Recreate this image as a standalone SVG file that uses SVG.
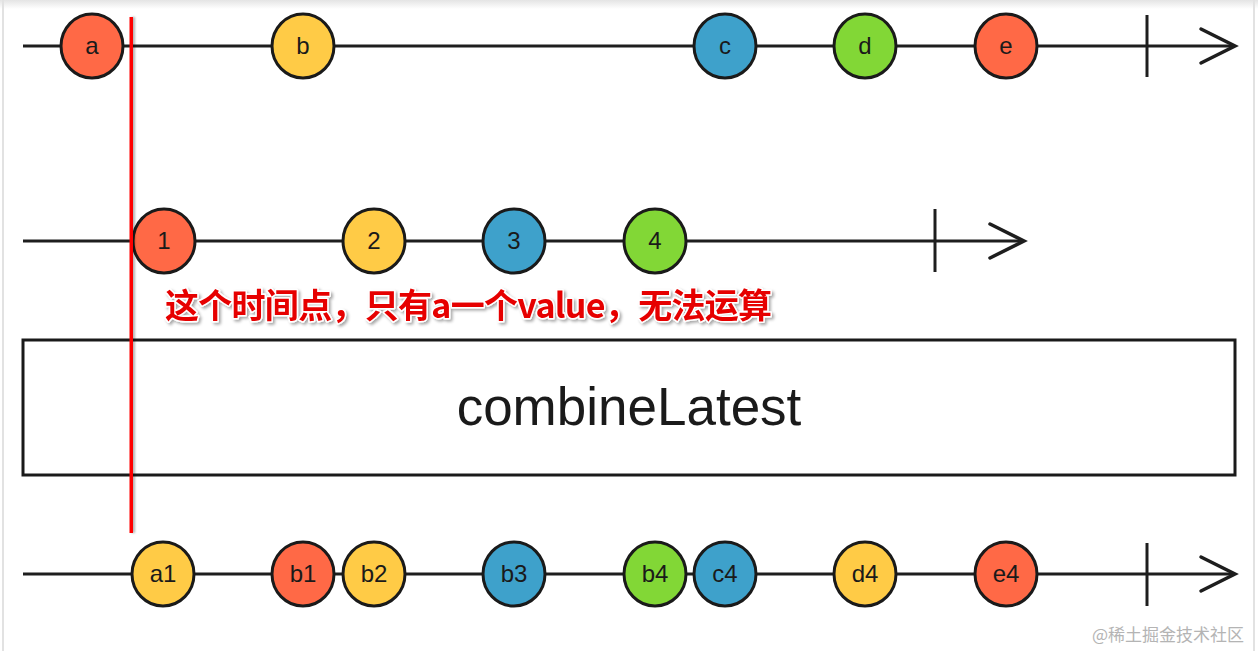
<svg xmlns="http://www.w3.org/2000/svg" width="1258" height="651" viewBox="0 0 1258 651">
<defs>
<linearGradient id="topShade" x1="0" y1="0" x2="0" y2="1">
<stop offset="0" stop-color="#e4e4e4"/>
<stop offset="1" stop-color="#ffffff"/>
</linearGradient>
<filter id="shadow" x="-10%" y="-30%" width="120%" height="160%">
<feDropShadow dx="2" dy="2" stdDeviation="1.5" flood-color="#000" flood-opacity="0.35"/>
</filter>
<filter id="lineShadow" filterUnits="userSpaceOnUse" x="120" y="10" width="30" height="530">
<feDropShadow dx="2" dy="0" stdDeviation="1.2" flood-color="#000" flood-opacity="0.3"/>
</filter>
</defs>
<style>
.tl{stroke:#1e1e1e;stroke-width:3;fill:none;stroke-linecap:butt}
.arw{stroke:#1e1e1e;stroke-width:3.5;fill:none;stroke-linecap:round;stroke-linejoin:miter}
.m{stroke:#1a1a1a;stroke-width:3}
.red{fill:#ff6946}
.yel{fill:#ffcb46}
.blu{fill:#3ea1cb}
.grn{fill:#82d736}
.lbl{font-family:"Liberation Sans",Arial,sans-serif;font-size:24px;fill:#1a1a1a;text-anchor:middle}
.op{font-family:"Liberation Sans",Arial,sans-serif;font-size:53px;fill:#1a1a1a;text-anchor:middle}
.note{font-family:"Noto Sans CJK SC","Noto Sans",sans-serif;font-weight:bold;font-size:34px;fill:#e60000;stroke:#ffffff;stroke-width:3;paint-order:stroke;stroke-linejoin:round}
.wm{font-family:"Noto Sans CJK SC",sans-serif;font-size:17px;fill:#b4b4b4}
</style>
<rect width="1258" height="651" fill="#ffffff"/>
<rect width="1258" height="9" fill="url(#topShade)"/>
<line x1="3" y1="0" x2="3" y2="651" stroke="#e2e2e2" stroke-width="2"/>
<line x1="1254" y1="0" x2="1254" y2="651" stroke="#e2e2e2" stroke-width="2"/>

<g id="connectors">
<line class="tl" x1="23" y1="46" x2="1235" y2="46"/>
<line class="tl" x1="1147" y1="15" x2="1147" y2="77"/>
<polyline class="arw" points="1201,29 1235,46 1201,63"/>
<line class="tl" x1="23" y1="241" x2="1024" y2="241"/>
<line class="tl" x1="935" y1="209" x2="935" y2="272"/>
<polyline class="arw" points="990,224 1024,241 990,258"/>
<line class="tl" x1="23" y1="574" x2="1235" y2="574"/>
<line class="tl" x1="1147" y1="543" x2="1147" y2="606"/>
<polyline class="arw" points="1201,557 1235,574 1201,591"/>
</g>

<g id="node-a"><ellipse class="m red" cx="92" cy="46" rx="31" ry="32"/><text class="lbl" x="92" y="54">a</text></g>
<g id="node-b"><ellipse class="m yel" cx="303" cy="46" rx="31" ry="32"/><text class="lbl" x="303" y="54">b</text></g>
<g id="node-c"><ellipse class="m blu" cx="725" cy="46" rx="31" ry="32"/><text class="lbl" x="725" y="54">c</text></g>
<g id="node-d"><ellipse class="m grn" cx="865" cy="46" rx="31" ry="32"/><text class="lbl" x="865" y="54">d</text></g>
<g id="node-e"><ellipse class="m red" cx="1006" cy="46" rx="31" ry="32"/><text class="lbl" x="1006" y="54">e</text></g>

<g id="node-1"><ellipse class="m red" cx="164" cy="241" rx="31" ry="32"/><text class="lbl" x="164" y="249">1</text></g>
<g id="node-2"><ellipse class="m yel" cx="374" cy="241" rx="31" ry="32"/><text class="lbl" x="374" y="249">2</text></g>
<g id="node-3"><ellipse class="m blu" cx="514" cy="241" rx="31" ry="32"/><text class="lbl" x="514" y="249">3</text></g>
<g id="node-4"><ellipse class="m grn" cx="655" cy="241" rx="31" ry="32"/><text class="lbl" x="655" y="249">4</text></g>

<g id="node-op"><rect x="23" y="340" width="1212" height="135" fill="#ffffff" stroke="#1a1a1a" stroke-width="3"/><text class="op" x="629" y="425">combineLatest</text></g>

<g id="node-a1"><ellipse class="m yel" cx="163" cy="574" rx="31" ry="32"/><text class="lbl" x="163" y="582">a1</text></g>
<g id="node-b1"><ellipse class="m red" cx="303" cy="574" rx="31" ry="32"/><text class="lbl" x="303" y="582">b1</text></g>
<g id="node-b2"><ellipse class="m yel" cx="374" cy="574" rx="31" ry="32"/><text class="lbl" x="374" y="582">b2</text></g>
<g id="node-b3"><ellipse class="m blu" cx="514" cy="574" rx="31" ry="32"/><text class="lbl" x="514" y="582">b3</text></g>
<g id="node-b4"><ellipse class="m grn" cx="655" cy="574" rx="31" ry="32"/><text class="lbl" x="655" y="582">b4</text></g>
<g id="node-c4"><ellipse class="m blu" cx="725" cy="574" rx="31" ry="32"/><text class="lbl" x="725" y="582">c4</text></g>
<g id="node-d4"><ellipse class="m yel" cx="865" cy="574" rx="31" ry="32"/><text class="lbl" x="865" y="582">d4</text></g>
<g id="node-e4"><ellipse class="m red" cx="1006" cy="574" rx="31" ry="32"/><text class="lbl" x="1006" y="582">e4</text></g>

<g id="marker-line"><rect x="129.5" y="17" width="3.5" height="516" fill="#ff0000" filter="url(#lineShadow)"/></g>

<g id="note"><text class="note" x="165" y="318" textLength="607" lengthAdjust="spacing" filter="url(#shadow)">这个时间点，只有a一个value，无法运算</text></g>

<g id="watermark"><text class="wm" x="1092" y="641">@稀土掘金技术社区</text></g>
</svg>
